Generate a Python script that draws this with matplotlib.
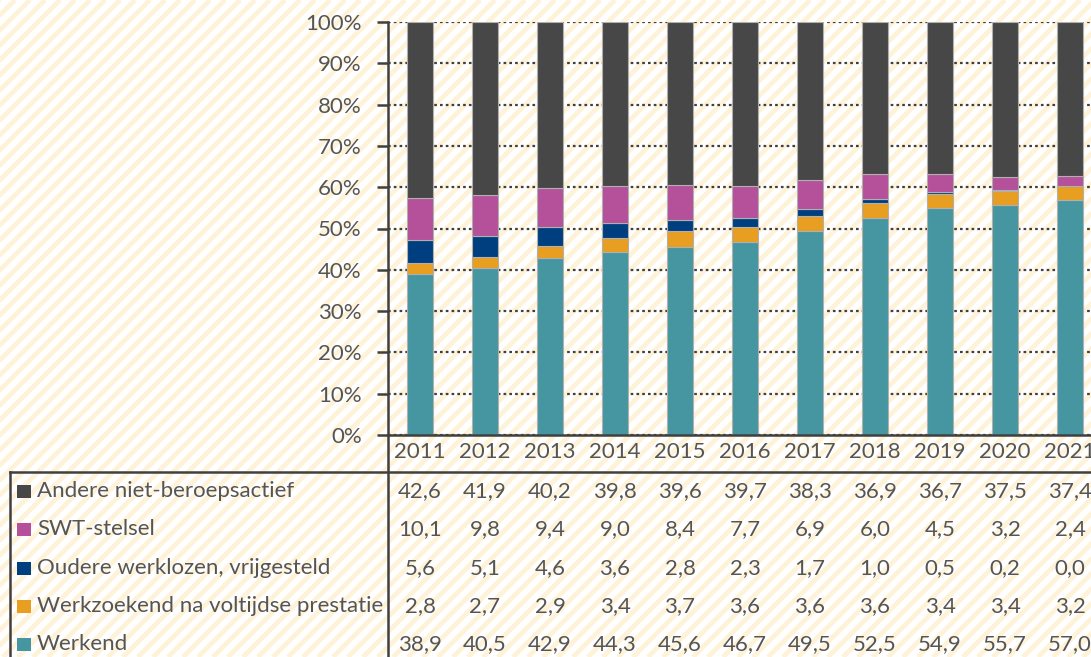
import matplotlib
matplotlib.use("Agg")
import matplotlib.pyplot as plt
import matplotlib.transforms as mtransforms
from matplotlib.collections import LineCollection
from matplotlib.patches import Rectangle
import numpy as np

plt.rcParams['font.family'] = ['Lato', 'DejaVu Sans']

years = ['2011', '2012', '2013', '2014', '2015', '2016', '2017', '2018', '2019', '2020', '2021']
werkend = [38.9, 40.5, 42.9, 44.3, 45.6, 46.7, 49.5, 52.5, 54.9, 55.7, 57.0]
werkzoekend = [2.8, 2.7, 2.9, 3.4, 3.7, 3.6, 3.6, 3.6, 3.4, 3.4, 3.2]
oudere = [5.6, 5.1, 4.6, 3.6, 2.8, 2.3, 1.7, 1.0, 0.5, 0.2, 0.0]
swt = [10.1, 9.8, 9.4, 9.0, 8.4, 7.7, 6.9, 6.0, 4.5, 3.2, 2.4]
andere = [42.6, 41.9, 40.2, 39.8, 39.6, 39.7, 38.3, 36.9, 36.7, 37.5, 37.4]

series_labels = ['Werkend', 'Werkzoekend na voltijdse prestatie', 'Oudere werklozen, vrijgesteld',
                 'SWT-stelsel', 'Andere niet-beroepsactief']
series_values = [werkend, werkzoekend, oudere, swt, andere]
colors = ['#4596A0', '#E89E21', '#003F7F', '#B5509A', '#474747']

W, H = 1091, 657
fig = plt.figure(figsize=(W / 100, H / 100), dpi=100)
fig.patch.set_facecolor('white')

# striped background
bg = fig.add_axes([0, 0, 1, 1], zorder=-5)
bg.set_xlim(0, W)
bg.set_ylim(H, 0)
bg.axis('off')
period = 15
segs = [[(c, H), (c + H, 0)] for c in np.arange(-H - period, W + period, period)]
bg.add_collection(LineCollection(segs, colors='#FEF3D8', linewidths=3.4))

TXT = '#555555'
DARK = '#404040'
FS = 16

def fy(ypx):
    return 1 - ypx / H

ax_left, ax_right = 387.5, 1102.5
ax_top, ax_bot = 22, 435
ax = fig.add_axes([ax_left / W, fy(ax_bot), (ax_right - ax_left) / W, (ax_bot - ax_top) / H])
ax.set_facecolor('none')

x = np.arange(len(years))
bottom = np.zeros(len(years))
for lab, vals, col in zip(series_labels, series_values, colors):
    ax.bar(x, vals, width=0.4, bottom=bottom, color=col, edgecolor='#B0B0B0', linewidth=0.8, zorder=3)
    bottom += np.array(vals)

ax.set_xlim(-0.5, len(years) - 0.5)
ax.set_ylim(0, 100)
ax.set_yticks(np.arange(0, 101, 10))
ax.set_yticklabels([f'{v}%' for v in range(0, 101, 10)], fontsize=FS, color=TXT)
ax.set_xticks([])
ax.yaxis.grid(True, linestyle=(0, (1.2, 1.4)), color=DARK, linewidth=1.6, zorder=1)
ax.set_axisbelow(True)
ax.tick_params(axis='y', length=8, width=1.8, color=DARK, pad=10.5)
for s in ['top', 'right']:
    ax.spines[s].set_visible(False)
ax.spines['left'].set_visible(False)
ax.spines['bottom'].set_color(DARK)
ax.spines['bottom'].set_linewidth(1.8)
ax.spines['bottom'].set_zorder(4)

# vertical axis line extended down through the table
fig.add_artist(plt.Line2D([ax_left / W, ax_left / W], [fy(ax_top), 0], color=DARK, lw=1.8,
                          transform=fig.transFigure, zorder=6))
# table top line
fig.add_artist(plt.Line2D([9.5 / W, 1], [fy(471.5), fy(471.5)], color=DARK, lw=1.8,
                          transform=fig.transFigure, zorder=6))
# legend box left line
fig.add_artist(plt.Line2D([9.5 / W, 9.5 / W], [fy(471.5), 0], color=DARK, lw=1.8,
                          transform=fig.transFigure, zorder=6))

trans = mtransforms.blended_transform_factory(ax.transData, fig.transFigure)
for i, yr in enumerate(years):
    ax.text(i, fy(452), yr, transform=trans, ha='center', va='center', fontsize=FS, color=TXT, clip_on=False)

row_y = [491, 529, 568, 606, 644]
order = [4, 3, 2, 1, 0]
for ry, si in zip(row_y, order):
    for i, v in enumerate(series_values[si]):
        ax.text(i, fy(ry), f'{v:.1f}'.replace('.', ','), transform=trans, ha='center', va='center',
                fontsize=FS, color=TXT, clip_on=False)
    fig.patches.append(Rectangle((17 / W, fy(ry + 7)), 13.5 / W, 13.5 / H, transform=fig.transFigure,
                                 facecolor=colors[si], edgecolor='none', figure=fig))
    fig.text(37 / W, fy(ry), series_labels[si], ha='left', va='center', fontsize=FS, color=TXT)

fig.savefig('out.png', dpi=100)
